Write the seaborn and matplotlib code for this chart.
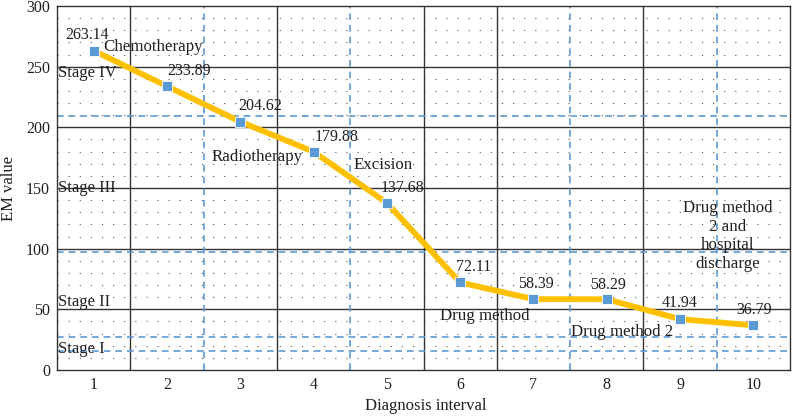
import pandas as pd
import matplotlib
matplotlib.use("Agg")
import matplotlib.pyplot as plt
import seaborn as sns

# Data
intervals = [1, 2, 3, 4, 5, 6, 7, 8, 9, 10]
em_values = [263.14, 233.89, 204.62, 179.88, 137.68, 72.11, 58.39, 58.29, 41.94, 36.79]

# value label offsets (points) relative to each marker
label_offsets = [(-5, 11), (16, 11), (14, 11), (16.5, 10.5), (11.5, 11),
                 (10, 11.5), (2, 11), (0.7, 10.5), (0, 11.5), (0.7, 11)]

stage_names = ["Stage IV", "Stage III", "Stage II", "Stage I"]
stage_y = [245, 149.6, 56, 17]
stage_lines = [209, 97.5, 27, 16]

treatments = ["Chemotherapy", "Radiotherapy", "Excision", "Drug method", "Drug method 2",
              "Drug method\n2 and\nhospital\ndischarge"]
treatment_x = [1.81, 3.23, 4.95, 6.33, 8.21, 9.65]
treatment_y = [266, 175.6, 168.6, 44.1, 31.7, 110.5]

df = pd.DataFrame({"Diagnosis interval": intervals, "EM value": em_values})

sns.set_style("white")
plt.rcParams["font.family"] = ["Liberation Serif", "DejaVu Serif"]
plt.rcParams["font.size"] = 11.5
txt_color = "#231f20"
blue = "#5b9bd5"
gold = "#ffc000"

fig = plt.figure(figsize=(7.92, 4.16), dpi=100)
ax = fig.add_axes([0.072, 0.1106, 0.9255, 0.875])

# minor dotted grid
for yv in range(10, 300, 10):
    if yv % 50:
        ax.axhline(yv, color="#555555", lw=0.8, ls=(0, (1, 9)), zorder=0)
for yv in [50, 100, 150, 200, 250]:
    ax.axhline(yv, color="#333333", lw=1.0, zorder=1)
for xv in [1.5, 2.5, 3.5, 4.5, 5.5, 6.5, 7.5, 8.5, 9.5]:
    if xv in (2.5, 4.5, 7.5, 9.5):
        ax.axvline(xv, color=blue, lw=1.2, ls=(0, (4, 3)), zorder=1)
    else:
        ax.axvline(xv, color="#333333", lw=1.0, zorder=1)
for yv in stage_lines:
    ax.axhline(yv, color=blue, lw=1.2, ls=(0, (4, 3)), zorder=1)

sns.lineplot(data=df, x="Diagnosis interval", y="EM value", ax=ax, color=gold,
             lw=4.2, marker="s", markersize=7.5, markerfacecolor=blue,
             markeredgecolor="white", markeredgewidth=0.6, zorder=3)

for x, y, off in zip(intervals, em_values, label_offsets):
    ax.annotate(f"{y:.2f}", (x, y), xytext=off, textcoords="offset points",
                ha="center", va="center", color=txt_color, fontsize=11.5, zorder=4)

for name, y in zip(stage_names, stage_y):
    ax.text(0.51, y, name, ha="left", va="center", color=txt_color, fontsize=12, zorder=4)

for name, x, y in zip(treatments, treatment_x, treatment_y):
    ax.text(x, y, name, ha="center", va="center", color=txt_color, fontsize=12.2,
            linespacing=1.2, zorder=4)

ax.set_xlim(0.5, 10.5)
ax.set_ylim(0, 300)
ax.set_xticks(intervals)
ax.set_yticks(range(0, 301, 50))
ax.tick_params(length=0, labelsize=11.5, colors=txt_color)
ax.tick_params(axis="x", pad=5)
ax.tick_params(axis="y", pad=5)
ax.set_xlabel("")
ax.set_ylabel("")
fig.text(426 / 792, 1 - 406 / 416, "Diagnosis interval", ha="center", va="center",
         fontsize=12, color=txt_color)
fig.text(9 / 792, 1 - 188 / 416, "EM value", ha="center", va="center", rotation=90,
         fontsize=12, color=txt_color)
for s in ax.spines.values():
    s.set_color("#333333")
    s.set_linewidth(1.0)

fig.savefig("out.png", dpi=100)
